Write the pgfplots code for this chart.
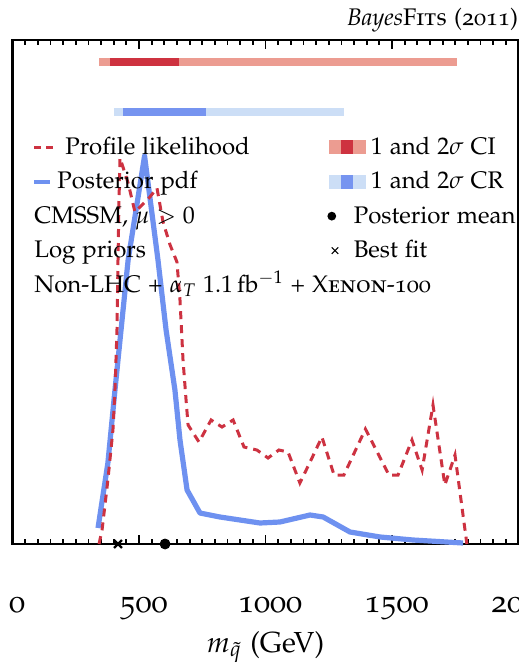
\documentclass[border=0pt]{standalone}
\usepackage[T1]{fontenc}
\usepackage[osf,sc]{mathpazo}
\usepackage{pgfplots}
\pgfplotsset{compat=1.18}
\definecolor{redline}{RGB}{205,50,65}
\definecolor{lightred}{RGB}{236,156,145}
\definecolor{darkred}{RGB}{206,50,64}
\definecolor{blueline}{RGB}{110,145,240}
\definecolor{bluedark}{RGB}{118,148,240}
\definecolor{bluelight}{RGB}{204,222,246}
\begin{document}
\begin{tikzpicture}
\begin{axis}[
  name=ax, at={(0,0)}, anchor=south west,
  scale only axis, width=253bp, height=252bp,
  xmin=0, xmax=2000, ymin=0, ymax=504,
  xtick={0,500,1000,1500,2000}, minor x tick num=9,
  ytick=\empty,
  tick align=inside, xtick pos=both,
  major tick length=4.5bp, minor tick length=2.5bp,
  every tick/.style={black, line width=0.9bp},
  axis line style={line width=1.2bp},
  xticklabel style={font=\fontsize{16bp}{18bp}\selectfont, anchor=base, yshift=-34bp, xshift=2.25bp, inner sep=0pt},
  /pgf/number format/assume math mode=true,
  /pgf/number format/1000 sep={},
  xlabel={$m_{\tilde{q}}$ (GeV)},
  xlabel style={font=\fontsize{14.5bp}{16bp}\selectfont, at={(axis description cs:0.5,0)}, anchor=base, yshift=-54bp, inner sep=0pt},
  title={\textit{Bayes}\textsc{Fits} (2011)},
  title style={at={(axis description cs:1,1)}, anchor=base east, yshift=1.5bp, inner sep=0pt, font=\fontsize{12bp}{14bp}\selectfont},
  clip=false,
  legend cell align=left,
  legend columns=2,
  legend style={at={(axis description cs:0,1)}, anchor=north west, xshift=9.75bp, yshift=-44.75bp,
    inner sep=0pt, draw=none, fill=none, column sep=0pt, row sep=0pt,
    font=\fontsize{12bp}{14bp}\selectfont,
    nodes={inner sep=0pt, text height=12.25bp, text depth=5bp}},
]
% credible intervals
\addplot[lightred, line width=4bp, forget plot] coordinates {(342,482) (1757,482)};
\addplot[darkred, line width=4bp, forget plot] coordinates {(385,482) (658,482)};
\addplot[bluelight, line width=4bp, forget plot] coordinates {(401,432) (1310,432)};
\addplot[bluedark, line width=4bp, forget plot] coordinates {(437,432) (765,432)};
% posterior pdf
\addplot[blueline, line width=2.6bp, line join=round, forget plot] table {
338 16
377 81
405 154
457 284
522 388
575 284
607 214
642 154
662 104
690 54
741 31
820 27
978 21
1057 22
1176 29
1228 27
1334 12
1453 7
1583 4
1781 1
};
% profile likelihood
\addplot[redline, line width=1.5bp, dash pattern=on 4bp off 3bp, forget plot] table {
342 0
354 14
377 64
397 114
405 154
413 214
417 284
421 344
425 386
457 361
484 332
543 347
571 356
595 322
623 299
650 282
662 244
674 184
686 144
694 119
737 102
785 124
828 117
872 124
915 97
966 94
1010 86
1053 94
1089 92
1136 61
1180 84
1223 107
1271 69
1310 69
1395 115
1488 69
1524 69
1579 104
1619 74
1662 139
1709 59
1749 89
1796 0
};
% posterior mean and best fit
\addplot[only marks, mark=*, mark size=2.5bp, black, forget plot] coordinates {(603,0)};
\addplot[only marks, mark=x, mark size=2.8bp, black, line width=1.2bp, forget plot] coordinates {(417,0)};
% legend
\addlegendimage{legend image code/.code={\draw[redline, line width=1.4bp, dash pattern=on 3.5bp off 2.5bp] (0,0) -- (10bp,0); \path[draw=none,fill=none] (0,0) -- (15.5bp,0);}}
\addlegendentry{\makebox[131bp][l]{Profile likelihood}}
\addlegendimage{legend image code/.code={\fill[lightred, draw=none] (0,-3.5bp) rectangle (6bp,3.5bp); \fill[darkred, draw=none] (6bp,-3.5bp) rectangle (12bp,3.5bp); \fill[lightred, draw=none] (12bp,-3.5bp) rectangle (18.5bp,3.5bp); \path[draw=none,fill=none] (0,0) -- (21bp,0);}}
\addlegendentry{$1$ and $2\sigma$ CI}
\addlegendimage{legend image code/.code={\draw[blueline, line width=2bp] (0,0) -- (8bp,0); \path[draw=none,fill=none] (0,0) -- (15.5bp,0);}}
\addlegendentry{\makebox[131bp][l]{\hspace*{-4bp}Posterior pdf}}
\addlegendimage{legend image code/.code={\fill[bluelight, draw=none] (0,-3.5bp) rectangle (6bp,3.5bp); \fill[bluedark, draw=none] (6bp,-3.5bp) rectangle (12bp,3.5bp); \fill[bluelight, draw=none] (12bp,-3.5bp) rectangle (18.5bp,3.5bp); \path[draw=none,fill=none] (0,0) -- (21bp,0);}}
\addlegendentry{$1$ and $2\sigma$ CR}
\addlegendimage{legend image code/.code={\path[draw=none,fill=none] (0,0) -- (15.5bp,0);}}
\addlegendentry{\makebox[131bp][l]{\hspace*{-15.5bp}CMSSM, $\mu>0$}}
\addlegendimage{legend image code/.code={\fill[black, draw=none] (1.5bp,0) circle (2.2bp); \path[draw=none,fill=none] (0,0) -- (21bp,0);}}
\addlegendentry{\hspace*{-8.5bp}Posterior mean}
\addlegendimage{legend image code/.code={\path[draw=none,fill=none] (0,0) -- (15.5bp,0);}}
\addlegendentry{\makebox[131bp][l]{\hspace*{-15.5bp}Log priors}}
\addlegendimage{legend image code/.code={\draw[black, line width=0.6bp] (1.5bp,-1.6bp) -- (4.7bp,1.6bp) (1.5bp,1.6bp) -- (4.7bp,-1.6bp); \path[draw=none,fill=none] (0,0) -- (21bp,0);}}
\addlegendentry{\hspace*{-8.5bp}Best fit}
\addlegendimage{legend image code/.code={\path[draw=none,fill=none] (0,0) -- (15.5bp,0);}}
\addlegendentry{\makebox[131bp][l]{\hspace*{-15.5bp}Non-LHC + $\alpha_T$ $1.1$\,fb$^{-1}$ + \textsc{Xenon}-100}}
\end{axis}
\pgfresetboundingbox
\path[use as bounding box] (-6.25bp,-59.5bp) rectangle (253.25bp,272bp);
\end{tikzpicture}
\end{document}
